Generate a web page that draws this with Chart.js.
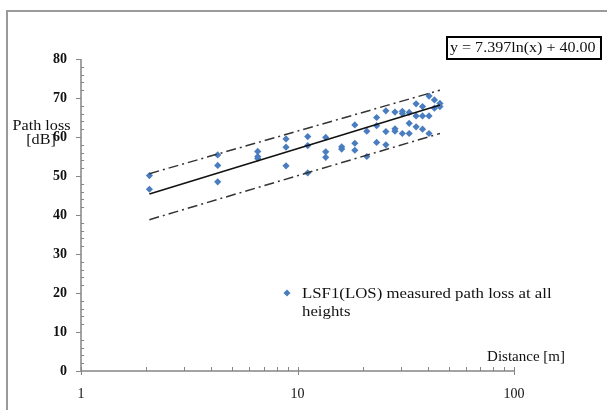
<!DOCTYPE html>
<html>
<head>
<meta charset="utf-8">
<script src="https://cdn.jsdelivr.net/npm/chart.js@4/dist/chart.umd.min.js"></script>
<style>
  html, body { margin: 0; padding: 0; background: #fff; }
  #wrap { width: 607px; height: 410px; position: relative; }
</style>
</head>
<body>
<div id="wrap"><canvas id="c" width="607" height="410"></canvas></div>
<script>
// ---- data ----
const distance = [2.07,2.07, 4.28,4.28,4.28, 6.55,6.55,6.55, 8.85,8.85,8.85, 11.15,11.15,11.15,
  13.5,13.5,13.5, 16.0,16.0, 18.4,18.4,18.4, 20.9,20.9, 23.2,23.2,23.2, 25.6,25.6,25.6,
  28.2,28.2,28.2, 30.5,30.5,30.5, 32.8,32.8,32.8, 35.3,35.3,35.3, 37.8,37.8,37.8,
  40.5,40.5,40.5, 42.9,42.9, 45.5,45.5];
const pathLoss = [50.1,46.6, 55.4,52.7,48.5, 56.3,55.0,54.5, 59.5,57.4,52.6, 60.1,57.8,50.8,
  59.9,56.2,54.8, 57.5,56.9, 63.1,58.4,56.6, 61.5,55.0, 65.0,62.9,58.6, 66.7,61.4,58.0,
  66.4,62.1,61.5, 66.6,66.0,60.9, 66.3,63.5,60.9, 68.5,65.4,62.6, 67.8,65.4,62.0,
  70.5,65.4,60.9, 69.5,67.4, 68.6,67.8];
const fitX = [2.07, 45.5];
const fitY = [45.4, 68.2];
const upperY = [50.6, 72.0];
const lowerY = [38.8, 60.9];
const xTickValues = [1, 10, 100];
const yMin = 0, yMax = 80, yStep = 10;
const seriesLabel = ['LSF1(LOS) measured path loss at all', 'heights'];
const equationText = 'y = 7.397ln(x) + 40.00';
const yTitle = ['Path loss', '[dB]'];
const xTitle = 'Distance [m]';

const pts = distance.map((d, i) => ({x: d, y: pathLoss[i]}));
const toPts = (xs, ys) => xs.map((x, i) => ({x, y: ys[i]}));

const SERIF = '"Liberation Serif", "Times New Roman", serif';
const AXIS = '#858585';
const BLUE = '#4a7dbf';

const decor = {
  id: 'decor',
  beforeDraw(chart) {
    const ctx = chart.ctx;
    ctx.save();
    ctx.fillStyle = '#fff';
    ctx.fillRect(0, 0, chart.width, chart.height);
    ctx.strokeStyle = '#9a9a9a';
    ctx.lineWidth = 2;
    ctx.beginPath();
    ctx.moveTo(7, 410); ctx.lineTo(7, 11); ctx.lineTo(607, 11);
    ctx.stroke();
    ctx.restore();
  },
  afterDatasetsDraw(chart) {
    const ctx = chart.ctx;
    const xs = chart.scales.x, ys = chart.scales.y;
    const a = chart.chartArea;
    ctx.save();
    ctx.strokeStyle = AXIS;
    ctx.lineWidth = 1.5;
    ctx.beginPath();
    ctx.moveTo(a.left, a.top); ctx.lineTo(a.left, a.bottom);
    ctx.moveTo(a.left, a.bottom); ctx.lineTo(a.right, a.bottom);
    ctx.stroke();
    ctx.lineWidth = 1;
    for (let v = yMin; v <= yMax; v += 2) {
      const py = Math.round(ys.getPixelForValue(v)) + 0.5;
      ctx.beginPath();
      if (v % yStep === 0) { ctx.moveTo(a.left - 5, py); ctx.lineTo(a.left, py); }
      else { ctx.moveTo(a.left, py); ctx.lineTo(a.left + 3, py); }
      ctx.stroke();
    }
    for (let dec = 1; dec < 100; dec *= 10) {
      for (let m = 1; m <= 10; m++) {
        const v = dec * m;
        const px = Math.round(xs.getPixelForValue(v)) + 0.5;
        ctx.beginPath();
        if (m === 1 || m === 10) { ctx.moveTo(px, a.bottom - 4); ctx.lineTo(px, a.bottom + 4); }
        else { ctx.moveTo(px, a.bottom - 4); ctx.lineTo(px, a.bottom); }
        ctx.stroke();
      }
    }
    // texts (reference text is slightly wide, so stretch horizontally a little)
    const stretchText = (txt, x, y, align, size, sx) => {
      ctx.save();
      ctx.font = size + 'px ' + SERIF;
      ctx.textAlign = align;
      ctx.textBaseline = 'middle';
      ctx.translate(x, y);
      ctx.scale(sx, 1);
      ctx.fillText(txt, 0, 0);
      ctx.restore();
    };
    ctx.fillStyle = '#111';
    stretchText(yTitle[0], 41.5, 126, 'center', 15, 1.08);
    stretchText(yTitle[1], 41, 140, 'center', 15, 1.08);
    stretchText(xTitle, 565, 357, 'right', 15, 1.0);
    ctx.strokeStyle = '#000';
    ctx.lineWidth = 2;
    ctx.strokeRect(447, 37, 154, 22);
    stretchText(equationText, 450, 48.5, 'left', 15, 1.07);
    // legend
    ctx.fillStyle = BLUE;
    ctx.beginPath();
    const lx = 287, ly = 293;
    ctx.moveTo(lx, ly - 3.5); ctx.lineTo(lx + 3.5, ly); ctx.lineTo(lx, ly + 3.5); ctx.lineTo(lx - 3.5, ly); ctx.closePath();
    ctx.fill();
    ctx.fillStyle = '#111';
    stretchText(seriesLabel[0], 302, 294, 'left', 15, 1.12);
    stretchText(seriesLabel[1], 302, 312, 'left', 15, 1.12);
    ctx.restore();
  }
};

new Chart(document.getElementById('c'), {
  type: 'scatter',
  data: {
    datasets: [
      { label: 'fit', type: 'line', data: toPts(fitX, fitY), borderColor: '#111', borderWidth: 1.6,
        pointRadius: 0, fill: false, order: 0 },
      { label: 'upper', type: 'line', data: toPts(fitX, upperY), borderColor: '#333', borderWidth: 1.5,
        borderDash: [10, 4, 2, 4], pointRadius: 0, fill: false, order: 0 },
      { label: 'lower', type: 'line', data: toPts(fitX, lowerY), borderColor: '#333', borderWidth: 1.5,
        borderDash: [10, 4, 2, 4], pointRadius: 0, fill: false, order: 0 },
      { label: seriesLabel.join(' '), data: pts, pointStyle: 'rectRot', pointRadius: 3.6,
        backgroundColor: BLUE, borderColor: BLUE, borderWidth: 0, order: 1 }
    ]
  },
  options: {
    responsive: false,
    animation: false,
    events: [],
    layout: { padding: { top: 59, right: 93, left: 0, bottom: 0 } },
    plugins: { legend: { display: false }, tooltip: { enabled: false } },
    scales: {
      x: {
        type: 'logarithmic', min: 1, max: 100,
        grid: { display: false, drawTicks: false },
        border: { display: false },
        afterBuildTicks: s => { s.ticks = xTickValues.map(v => ({ value: v, major: true })); },
        afterFit: s => { s.height = 39; },
        ticks: { autoSkip: false, maxRotation: 0, padding: 15, color: '#111',
          font: { family: SERIF, size: 14 }, callback: v => String(v) }
      },
      y: {
        min: yMin, max: yMax,
        grid: { display: false, drawTicks: false },
        border: { display: false },
        afterFit: s => { s.width = 81; },
        ticks: { stepSize: yStep, padding: 14, color: '#111',
          font: { family: SERIF, size: 14, weight: 'bold' } }
      }
    }
  },
  plugins: [decor]
});
</script>
</body>
</html>
